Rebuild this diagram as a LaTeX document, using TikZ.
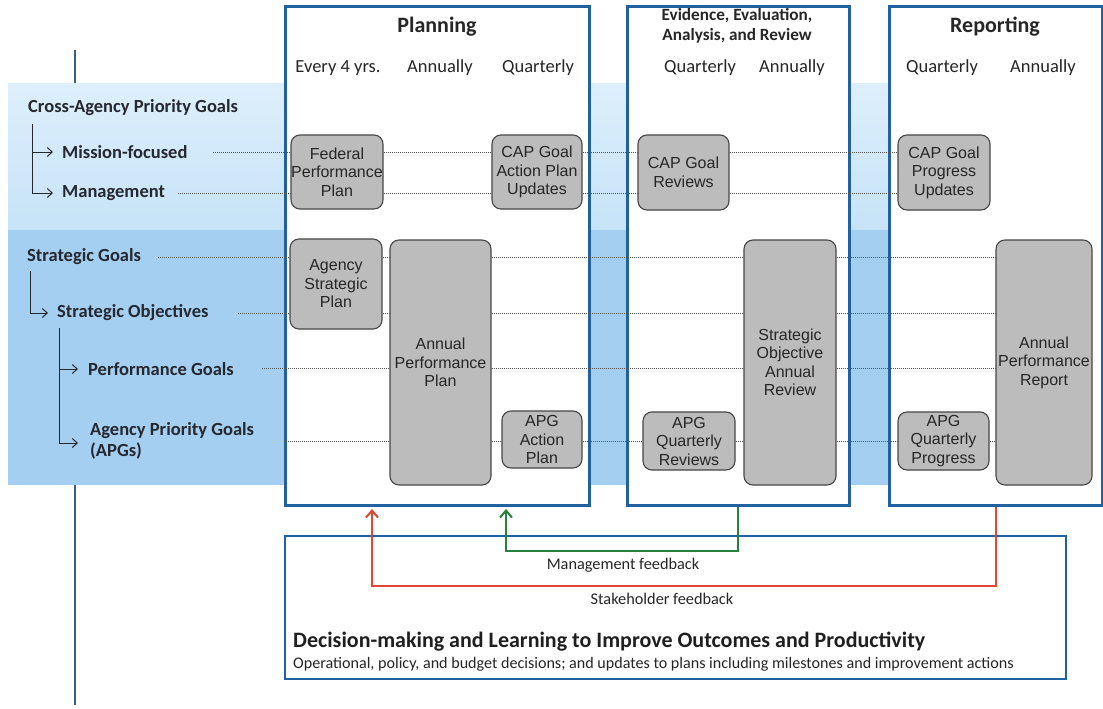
\documentclass[tikz,border=0pt]{standalone}
\usepackage{fontspec}
\setmainfont{Carlito}
\newfontfamily\boxfont{Liberation Sans}
\usetikzlibrary{arrows.meta}

\definecolor{panelblue}{RGB}{33,97,160}
\definecolor{bandtop}{RGB}{222,239,251}
\definecolor{bandmid}{RGB}{198,227,248}
\definecolor{banddark}{RGB}{164,207,241}
\definecolor{boxgray}{RGB}{188,188,188}
\definecolor{boxedge}{RGB}{70,70,70}
\definecolor{dotgray}{RGB}{85,85,85}
\definecolor{labtext}{RGB}{38,40,48}
\definecolor{stemblue}{RGB}{62,92,130}
\definecolor{fbred}{RGB}{222,72,52}
\definecolor{fbgreen}{RGB}{42,128,62}

\tikzset{
  panel/.style={draw=panelblue, line width=2.6pt, fill=white, inner sep=0pt, anchor=north west},
  gbox/.style={draw=boxedge, line width=1.1pt, fill=boxgray, rounded corners=9pt,
    inner sep=0pt, align=center, text=black!85,
    font=\boxfont\fontsize{16}{18.5}\selectfont},
  lab/.style={anchor=west, inner sep=0pt, align=left, text=labtext,
    font=\bfseries\fontsize{18.5}{21.5}\selectfont},
  colhead/.style={inner sep=0pt, text=black!85, font=\fontsize{18.5}{22}\selectfont},
  bighead/.style={inner sep=0pt, text=black!85, font=\bfseries\fontsize{22}{24}\selectfont},
  dothead/.style={inner sep=0pt, align=center, text=black!85,
    font=\bfseries\fontsize{17.2}{20.5}\selectfont},
  dotline/.style={draw=dotgray, line width=0.9pt, dash pattern=on 1pt off 1pt},
  tree/.style={draw=labtext, line width=1pt},
  treearrow/.style={tree, -{Straight Barb[length=5pt,width=9pt]}},
  fbarrow/.style={line width=2pt, -{Straight Barb[length=7pt,width=12pt]}},
  fbtext/.style={inner sep=0pt, text=black!85, font=\fontsize{16.3}{18}\selectfont},
}

\begin{document}
\begin{tikzpicture}[x=1pt, y=-1pt]
\useasboundingbox (0,0) rectangle (1103,709);
\fill[white] (0,0) rectangle (1103,709);

% vertical stem behind the goal bands
\draw[stemblue, line width=1.5pt] (75,50) -- (75,705);

% goal bands
\shade[top color=bandtop, bottom color=bandmid] (8,83) rectangle (1103,230);
\fill[banddark] (8,230) rectangle (1103,485);

% process panels
\node[panel, minimum width=304, minimum height=499] (plan) at (284,5) {};
\node[panel, minimum width=222, minimum height=499] (eval) at (626,5) {};
\node[panel, minimum width=213, minimum height=499] (rep)  at (888,5) {};

% panel headings
\node[bighead] (tplan) at (437,27) {Planning};
\node[dothead] (teval) at (737,26) {Evidence, Evaluation,\\Analysis, and Review};
\node[bighead] (trep) at (995,27) {Reporting};

\node[colhead] (h1) at (338,68) {Every 4 yrs.};
\node[colhead] (h2) at (440,68) {Annually};
\node[colhead] (h3) at (538,68) {Quarterly};
\node[colhead] (h4) at (700,68) {Quarterly};
\node[colhead] (h5) at (792,68) {Annually};
\node[colhead] (h6) at (942,68) {Quarterly};
\node[colhead] (h7) at (1043,68) {Annually};

% goal labels
\node[lab] (cap) at (28,108) {Cross-Agency Priority Goals};
\node[lab] (mf)  at (62,152) {Mission-focused};
\node[lab] (mg)  at (62,193) {Management};
\node[lab] (sg)  at (27,257) {Strategic Goals};
\node[lab] (so)  at (57,313) {Strategic Objectives};
\node[lab] (pg)  at (88,369) {Performance Goals};
\node[lab] (apg) at (90,441) {Agency Priority Goals\\(APGs)};

% hierarchy brackets
\coordinate (b1top) at (32,124);
\coordinate (b1end) at (32,193);
\draw[tree] (b1top) -- (b1end);
\draw[treearrow] (32,152) -- ([xshift=-9pt]mf.west);
\draw[treearrow] (b1end) -- ([xshift=-9pt]mg.west);
\coordinate (b2top) at (30,271);
\coordinate (b2end) at (30,313);
\draw[tree] (b2top) -- (b2end);
\draw[treearrow] (b2end) -- ([xshift=-9pt]so.west);
\coordinate (b3top) at (59,328);
\coordinate (b3end) at (59,443);
\draw[tree] (b3top) -- (b3end);
\draw[treearrow] (59,369) -- ([xshift=-10pt]pg.west);
\draw[treearrow] (b3end) -- ([xshift=-12pt]apg.west |- b3end);

% plan / review / report boxes
\node[gbox, minimum width=92, minimum height=74] (fpp)   at (337,172) {Federal\\Performance\\Plan};
\node[gbox, minimum width=90, minimum height=74] (capu)  at (537,172) {CAP Goal\\Action Plan\\Updates};
\node[gbox, minimum width=91, minimum height=75] (capr)  at (683.5,172.5) {CAP Goal\\Reviews};
\node[gbox, minimum width=92, minimum height=75] (capp)  at (944,172.5) {CAP Goal\\Progress\\Updates};
\node[gbox, minimum width=92, minimum height=90] (asp)   at (336,284) {Agency\\Strategic\\Plan};
\node[gbox, minimum width=101, minimum height=245] (app) at (440.5,362.5) {Annual\\Performance\\Plan};
\node[gbox, minimum width=80, minimum height=57] (apgap) at (542,439.5) {APG\\Action\\Plan};
\node[gbox, minimum width=92, minimum height=58] (apgqr) at (689,441) {APG\\Quarterly\\Reviews};
\node[gbox, minimum width=92, minimum height=245] (soar) at (790,362.5) {Strategic\\Objective\\Annual\\Review};
\node[gbox, minimum width=91, minimum height=58] (apgqp) at (943.5,441) {APG\\Quarterly\\Progress};
\node[gbox, minimum width=96, minimum height=245] (apr)  at (1044,362.5) {Annual\\Performance\\Report};

% dotted guide lines from each goal level through the boxes
\coordinate (d1) at (213,152);
\coordinate (d2) at (178,193);
\coordinate (d3) at (158,257);
\coordinate (d4) at (238,313);
\coordinate (d5) at (262,368);
\coordinate (d6) at (284,441);
\draw[dotline] (d1) -- (fpp.west |- d1);
\draw[dotline] (fpp.east |- d1) -- (capu.west |- d1);
\draw[dotline] (capu.east |- d1) -- (capr.west |- d1);
\draw[dotline] (capr.east |- d1) -- (capp.west |- d1);
\draw[dotline] (d2) -- (fpp.west |- d2);
\draw[dotline] (fpp.east |- d2) -- (capu.west |- d2);
\draw[dotline] (capu.east |- d2) -- (capr.west |- d2);
\draw[dotline] (capr.east |- d2) -- (capp.west |- d2);
\draw[dotline] (d3) -- (asp.west |- d3);
\draw[dotline] (asp.east |- d3) -- (app.west |- d3);
\draw[dotline] (app.east |- d3) -- (soar.west |- d3);
\draw[dotline] (soar.east |- d3) -- (apr.west |- d3);
\draw[dotline] (d4) -- (asp.west |- d4);
\draw[dotline] (asp.east |- d4) -- (app.west |- d4);
\draw[dotline] (app.east |- d4) -- (soar.west |- d4);
\draw[dotline] (soar.east |- d4) -- (apr.west |- d4);
\draw[dotline] (d5) -- (app.west |- d5);
\draw[dotline] (app.east |- d5) -- (soar.west |- d5);
\draw[dotline] (soar.east |- d5) -- (apr.west |- d5);
\draw[dotline] (d6) -- (app.west |- d6);
\draw[dotline] (app.east |- d6) -- (apgap.west |- d6);
\draw[dotline] (apgap.east |- d6) -- (apgqr.west |- d6);
\draw[dotline] (apgqr.east |- d6) -- (soar.west |- d6);
\draw[dotline] (soar.east |- d6) -- (apgqp.west |- d6);
\draw[dotline] (apgqp.east |- d6) -- (apr.west |- d6);

% decision-making panel
\node[draw=panelblue, line width=2.4pt, fill=white, anchor=north west, inner sep=0pt,
  minimum width=781, minimum height=143] (dec) at (284,535) {};
\node[anchor=west, inner sep=0pt, text=black!88,
  font=\bfseries\fontsize{22}{24}\selectfont] (dtitle) at (293,642)
  {Decision-making and Learning to Improve Outcomes and Productivity};
\node[anchor=west, inner sep=0pt, text=black!85,
  font=\fontsize{16.1}{18}\selectfont] (dsub) at (293,664)
  {Operational, policy, and budget decisions; and updates to plans including milestones and improvement actions};

% feedback loops
\coordinate (mfb) at (506,551);
\coordinate (mfbEnd) at (506,509);
\coordinate (sfb) at (372,586);
\coordinate (sfbEnd) at (372,509);
\draw[fbarrow, fbred] (rep.south) |- (sfb) -- (sfbEnd);
\draw[fbarrow, fbgreen] (eval.south) |- (mfb) -- (mfbEnd);
\node[fbtext] (mtext) at (623,565) {Management feedback};
\node[fbtext] (stext) at (662,599) {Stakeholder feedback};
\end{tikzpicture}
\end{document}
